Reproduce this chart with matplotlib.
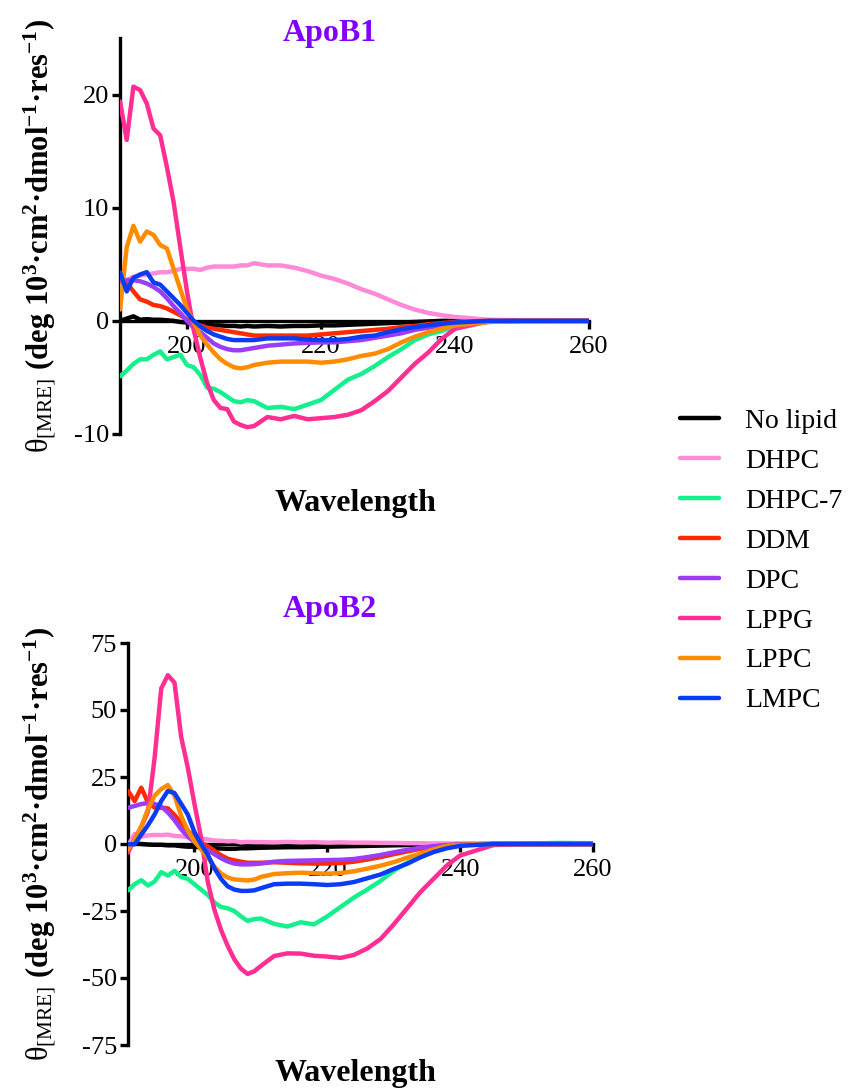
import matplotlib
matplotlib.use("Agg")
import matplotlib.pyplot as plt

plt.rcParams["font.family"] = "Liberation Serif"
plt.rcParams["axes.unicode_minus"] = False
plt.rcParams["mathtext.fontset"] = "custom"
plt.rcParams["mathtext.rm"] = "Liberation Serif"
plt.rcParams["mathtext.it"] = "Liberation Serif"
plt.rcParams["mathtext.bf"] = "Liberation Serif:bold"

# wavelength grid (nm)
wavelength = list(range(190, 211)) + list(range(212, 241, 2)) + [245, 250, 255, 260]

labels = ["No lipid", "DHPC", "DHPC-7", "DDM", "DPC", "LPPG", "LPPC", "LMPC"]
colors = ["#000000", "#ff8ad8", "#14f08c", "#ff2a00", "#9b3cf6", "#ff2e93", "#ff8c00", "#0a3cf5"]

# ApoB1 (theta, 10^3 deg cm2 dmol-1 res-1)
b1_nolipid = [0.0, 0.2, 0.4, 0.1, 0.15, 0.1, 0.1, 0.05, 0.0, -0.1, -0.15, -0.2, -0.3, -0.35, -0.4, -0.4, -0.45, -0.45, -0.5, -0.45, -0.5,
              -0.45, -0.5, -0.45, -0.45, -0.4, -0.4, -0.35, -0.3, -0.25, -0.2, -0.15, -0.1, -0.05, 0.0, 0.0, 0.0, 0.0, 0.0, 0.0]
b1_dhpc = [3.0, 3.6, 3.9, 4.0, 4.1, 4.2, 4.3, 4.3, 4.4, 4.6, 4.6, 4.6, 4.5, 4.7, 4.8, 4.8, 4.8, 4.8, 4.9, 4.9, 5.1,
           4.9, 4.9, 4.7, 4.4, 4.0, 3.7, 3.3, 2.8, 2.4, 1.9, 1.4, 1.0, 0.7, 0.5, 0.35, 0.1, 0.05, 0.0, 0.0]
b1_dhpc7 = [-4.9, -4.4, -3.8, -3.4, -3.4, -3.0, -2.7, -3.4, -3.2, -3.0, -3.9, -4.1, -4.8, -5.9, -6.0, -6.3, -6.7, -7.1, -7.2, -7.0, -7.1,
            -7.7, -7.6, -7.8, -7.4, -7.0, -6.1, -5.2, -4.7, -4.0, -3.2, -2.5, -1.7, -1.2, -0.9, -0.5, -0.1, 0.0, 0.0, 0.0]
b1_ddm = [3.8, 3.4, 2.6, 1.9, 1.7, 1.4, 1.3, 1.1, 0.8, 0.5, 0.1, -0.2, -0.4, -0.6, -0.7, -0.8, -0.9, -1.0, -1.1, -1.2, -1.3,
          -1.3, -1.3, -1.3, -1.3, -1.2, -1.1, -1.0, -0.9, -0.8, -0.7, -0.55, -0.45, -0.3, -0.2, -0.1, 0.0, 0.0, 0.0, 0.0]
b1_dpc = [3.5, 3.6, 3.6, 3.5, 3.3, 3.0, 2.6, 2.0, 1.3, 0.7, 0.0, -0.6, -1.0, -1.5, -2.0, -2.3, -2.5, -2.6, -2.6, -2.5, -2.4,
          -2.2, -2.1, -2.0, -1.95, -1.9, -1.9, -1.8, -1.7, -1.5, -1.3, -1.1, -0.8, -0.6, -0.4, -0.25, -0.05, 0.0, 0.0, 0.0]
b1_lppg = [19.4, 16.0, 20.7, 20.4, 19.2, 17.0, 16.4, 13.6, 10.5, 6.5, 2.6, -0.8, -3.3, -5.5, -7.0, -7.7, -7.8, -8.9, -9.2, -9.4, -9.3,
           -8.5, -8.7, -8.4, -8.7, -8.6, -8.5, -8.3, -7.9, -7.1, -6.2, -5.0, -3.8, -2.8, -1.6, -0.7, -0.05, 0.0, 0.0, 0.0]
b1_lppc = [1.0, 6.5, 8.4, 7.0, 7.9, 7.6, 6.7, 6.4, 4.6, 2.8, 1.0, -0.1, -1.3, -2.1, -2.8, -3.4, -3.8, -4.1, -4.2, -4.1, -3.9,
           -3.7, -3.6, -3.6, -3.6, -3.7, -3.6, -3.4, -3.1, -2.9, -2.5, -1.9, -1.4, -1.0, -0.7, -0.4, -0.1, 0.0, 0.0, 0.0]
b1_lmpc = [4.3, 2.6, 3.8, 4.1, 4.3, 3.4, 3.2, 2.6, 2.0, 1.4, 0.7, 0.0, -0.5, -0.9, -1.2, -1.4, -1.6, -1.7, -1.7, -1.7, -1.7,
           -1.55, -1.55, -1.55, -1.65, -1.7, -1.7, -1.6, -1.4, -1.3, -1.0, -0.75, -0.55, -0.4, -0.25, -0.15, 0.0, 0.0, 0.0, 0.0]

# ApoB2
b2_nolipid = [0.0, 0.3, 0.0, -0.2, -0.3, -0.3, -0.5, -0.5, -0.8, -1.0, -1.0, -1.3, -1.5, -1.6, -1.7, -1.8, -1.8, -1.6, -1.6, -1.5, -1.4,
              -1.3, -1.2, -1.2, -1.1, -1.0, -0.9, -0.8, -0.7, -0.6, -0.5, -0.4, -0.3, -0.2, -0.1, 0.0, 0.0, 0.0, 0.0, 0.0]
b2_dhpc = [-0.7, 3.8, 2.8, 3.2, 3.4, 3.3, 3.5, 3.0, 2.9, 2.5, 2.2, 2.0, 1.7, 1.3, 1.2, 1.0, 1.1, 0.6, 0.8, 0.7, 0.7,
           0.6, 0.8, 0.6, 0.7, 0.5, 0.6, 0.5, 0.5, 0.4, 0.4, 0.3, 0.3, 0.2, 0.2, 0.1, 0.1, 0.0, 0.0, 0.0]
b2_dhpc7 = [-17.3, -15.0, -13.5, -15.5, -14.0, -10.5, -11.8, -10.0, -12.3, -13.0, -15.0, -17.0, -19.0, -21.8, -23.5, -24.0, -25.0, -27.0, -28.7, -28.0, -27.8,
            -29.8, -30.8, -29.2, -30.0, -27.0, -23.5, -20.0, -17.0, -13.8, -10.0, -7.0, -4.7, -2.5, -1.0, -0.4, 0.0, 0.2, 0.4, 0.3]
b2_ddm = [19.8, 16.0, 21.0, 15.5, 13.6, 13.5, 13.3, 10.8, 8.0, 5.0, 2.5, 0.5, -0.8, -2.5, -4.2, -5.5, -6.1, -6.6, -7.0, -7.0, -7.0,
          -6.8, -7.0, -7.2, -7.3, -7.3, -7.1, -6.6, -5.8, -4.9, -3.8, -2.8, -1.8, -1.0, -0.5, -0.2, 0.0, 0.0, 0.0, 0.0]
b2_dpc = [13.5, 14.2, 14.9, 15.3, 15.0, 14.0, 11.8, 8.9, 5.5, 2.8, 0.7, -1.0, -2.3, -3.8, -5.3, -6.5, -7.3, -7.6, -7.6, -7.5, -7.3,
          -6.6, -6.3, -6.2, -6.1, -6.0, -5.9, -5.6, -4.9, -4.1, -3.1, -2.2, -1.4, -0.8, -0.4, -0.2, 0.0, 0.0, 0.0, 0.0]
b2_lppg = [-3.2, 1.8, 6.5, 12.0, 32.0, 58.0, 63.0, 60.2, 40.0, 28.5, 15.0, 2.4, -14.0, -24.5, -32.0, -38.0, -43.0, -46.5, -48.5, -47.5, -45.5,
           -41.8, -40.8, -40.9, -41.7, -42.0, -42.5, -41.4, -39.0, -35.5, -30.0, -24.0, -18.0, -13.0, -8.0, -4.3, -0.4, 0.0, 0.0, 0.0]
b2_lppc = [-2.0, 1.5, 6.5, 13.0, 18.0, 20.5, 22.0, 18.0, 10.5, 5.0, 1.0, -2.0, -5.0, -8.5, -11.0, -12.5, -13.2, -13.4, -13.6, -13.3, -12.3,
           -11.2, -10.9, -10.7, -10.9, -11.1, -10.8, -10.2, -9.2, -8.1, -6.8, -5.1, -3.6, -2.0, -0.7, -0.3, 0.0, 0.0, 0.0, 0.0]
b2_lmpc = [-0.1, -0.1, 3.5, 7.0, 11.0, 16.0, 19.8, 19.0, 15.0, 11.0, 4.5, 0.0, -4.0, -9.0, -13.0, -15.8, -17.0, -17.5, -17.5, -17.3, -16.5,
           -15.0, -14.8, -14.8, -15.0, -15.3, -15.0, -14.2, -12.8, -11.4, -9.3, -7.4, -5.0, -3.0, -1.6, -0.7, 0.0, 0.0, 0.0, 0.0]

apob1 = [b1_nolipid, b1_dhpc, b1_dhpc7, b1_ddm, b1_dpc, b1_lppg, b1_lppc, b1_lmpc]
apob2 = [b2_nolipid, b2_dhpc, b2_dhpc7, b2_ddm, b2_dpc, b2_lppg, b2_lppc, b2_lmpc]

W, H = 848, 1091
fig = plt.figure(figsize=(W / 100, H / 100), dpi=100)

ax1 = fig.add_axes([120 / W, 1 - 434 / H, 469 / W, 396 / H])
ax2 = fig.add_axes([128 / W, 1 - 1045 / H, 465 / W, 402 / H])


def style_axes(ax, ylim, yticks):
    ax.set_xlim(190, 260)
    ax.set_ylim(*ylim)
    ax.spines["top"].set_visible(False)
    ax.spines["right"].set_visible(False)
    ax.spines["bottom"].set_position(("data", 0))
    for s in ("left", "bottom"):
        ax.spines[s].set_linewidth(2.4)
    ax.set_xticks([200, 220, 240, 260])
    ax.set_yticks(yticks)
    ax.tick_params(width=2.4, length=6, labelsize=19)
    ax.tick_params(axis="x", pad=5)
    ax.tick_params(axis="y", pad=2)


for ax, data in ((ax1, apob1), (ax2, apob2)):
    for vals, lab, col in zip(data, labels, colors):
        ax.plot(wavelength, vals, color=col, lw=3.2, label=lab, zorder=3,
                solid_joinstyle="round", solid_capstyle="round")

style_axes(ax1, (-10, 25), [-10, 0, 10, 20])
style_axes(ax2, (-75, 75), [-75, -50, -25, 0, 25, 50, 75])

title_kw = dict(fontsize=23, fontweight="bold", color="#8000ff", ha="center", va="center")
fig.text(330 / W, 1 - 33 / H, "ApoB1", **title_kw)
fig.text(330 / W, 1 - 610 / H, "ApoB2", **title_kw)

xl_kw = dict(fontsize=23, fontweight="bold", ha="center", va="center")
fig.text(355 / W, 1 - 503 / H, "Wavelength", **xl_kw)
fig.text(355 / W, 1 - 1073 / H, "Wavelength", **xl_kw)

ylab = (r"$\theta_{\mathrm{[MRE]}}$ $\mathbf{(deg\ 10^{3}·cm^{2}·dmol^{-1}·res^{-1})}$")
fig.text(40 / W, 1 - 236 / H, ylab, fontsize=22, rotation=90, ha="center", va="center")
fig.text(40 / W, 1 - 844 / H, ylab, fontsize=22, rotation=90, ha="center", va="center")

handles, labs = ax1.get_legend_handles_labels()
fig.legend(handles, labs, loc="center left", bbox_to_anchor=(680 / W, 1 - 561 / H),
           frameon=False, fontsize=20, handlelength=1.4, handletextpad=0.95,
           labelspacing=0.52, borderpad=0, borderaxespad=0)

fig.savefig("out.png", dpi=100)
